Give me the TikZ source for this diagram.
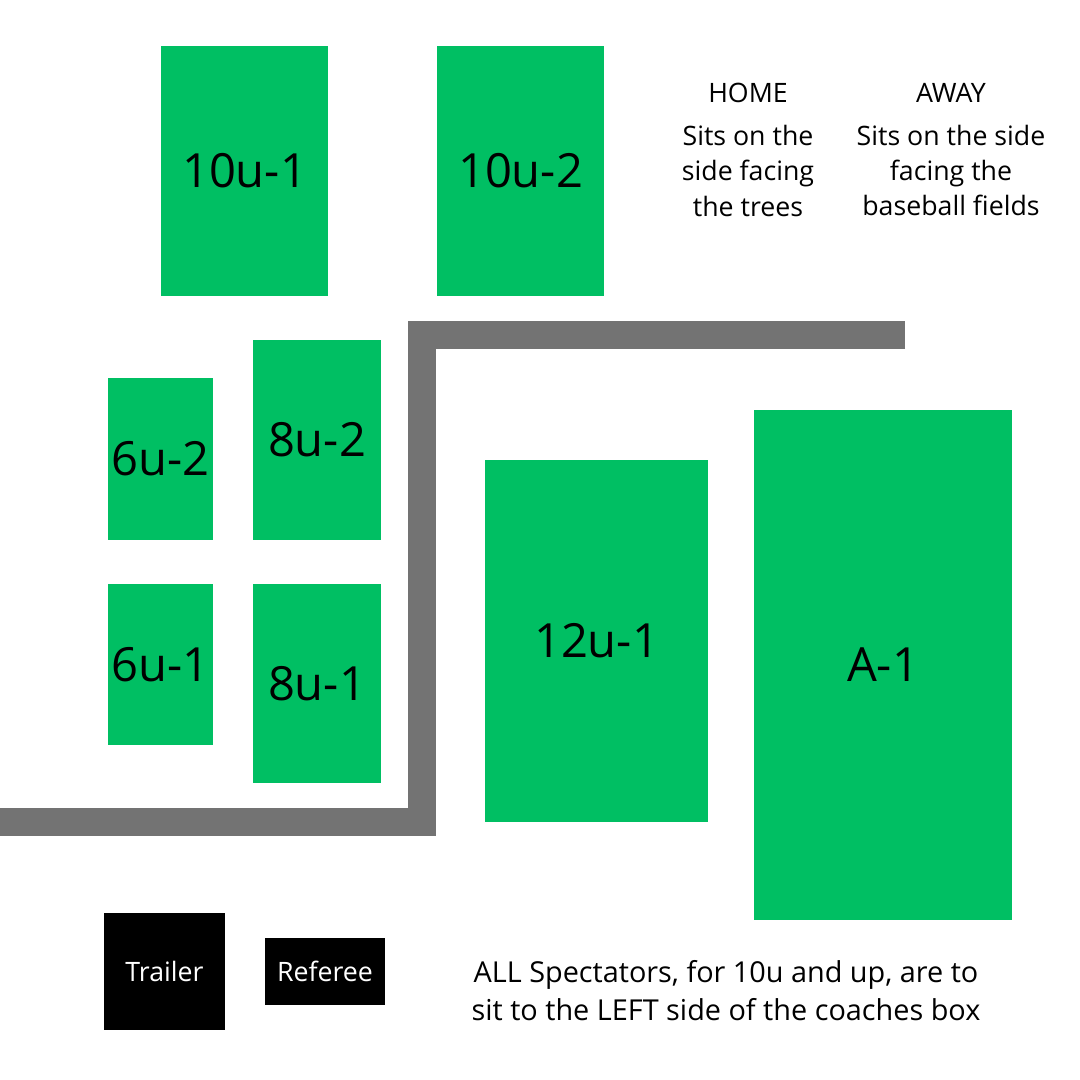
\documentclass[tikz,border=0pt]{standalone}
\usepackage{fontspec}
\setmainfont{Open Sans}
\usetikzlibrary{positioning}

\definecolor{fieldgreen}{HTML}{00BF63}
\definecolor{pathgray}{HTML}{737373}

\begin{document}
\begin{tikzpicture}[x=0.025cm, y=-0.025cm]
\def\px{0.025cm}
\tikzset{
  field/.style={fill=fieldgreen, inner sep=0pt, font=\fontsize{33.5}{38}\selectfont},
  hut/.style={fill=black, text=white, inner sep=0pt, font=\fontsize{19}{22}\selectfont},
  note/.style={align=center, font=\fontsize{19}{25}\selectfont},
}

\useasboundingbox[fill=white] (0,0) rectangle (1080,1080);

% walkway
\coordinate (Wa) at (905,334.5);
\coordinate (Wb) at (422,334.5);
\coordinate (Wc) at (422,822);
\coordinate (Wd) at (0,822);
\draw[pathgray, line width=28*\px, line join=miter] (Wa) -- (Wb) -- (Wc) -- (Wd);

% fields
\node[field, minimum width=167*\px, minimum height=250*\px] (u10a) at (244.5,171) {10u-1};
\node[field, minimum width=167*\px, minimum height=250*\px] (u10b) at (520.5,171) {10u-2};
\node[field, minimum width=105*\px, minimum height=162*\px] (u6b) at (160.5,459) {6u-2};
\node[field, minimum width=128*\px, minimum height=200*\px] (u8b) at (317,440) {8u-2};
\node[field, minimum width=105*\px, minimum height=161*\px] (u6a) at (160.5,664.5) {6u-1};
\node[field, minimum width=128*\px, minimum height=199*\px] (u8a) at (317,683.5) {8u-1};
\node[field, minimum width=223*\px, minimum height=362*\px] (u12a) at (596.5,641) {12u-1};
\node[field, minimum width=258*\px, minimum height=510*\px] (a1) at (883,665) {A-1};

% buildings
\node[hut, minimum width=121*\px, minimum height=117*\px] (trailer) at (164.5,971.5) {Trailer};
\node[hut, minimum width=120*\px, minimum height=67*\px] (referee) at (325,971.5) {Referee};

% notes
\node[note] (home) at (748,93) {HOME};
\node[note, below=9pt of home] (homenote) {Sits on the\\side facing\\the trees};
\node[note] (away) at (951,93) {AWAY};
\node[note, below=9pt of away] (awaynote) {Sits on the side\\facing the\\baseball fields};
\node[note, font=\fontsize{20.5}{27}\selectfont] (rule) at (726,991) {ALL Spectators, for 10u and up, are to\\sit to the LEFT side of the coaches box};
\end{tikzpicture}
\end{document}
